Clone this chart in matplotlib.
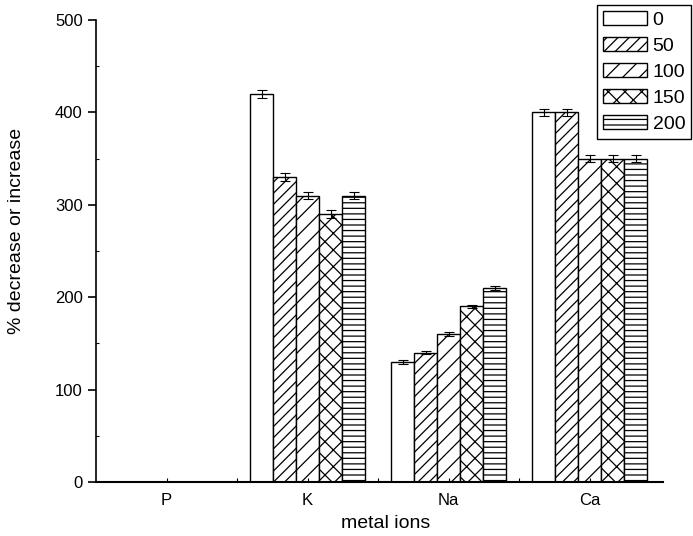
import numpy as np
import matplotlib.pyplot as plt
from matplotlib.ticker import MultipleLocator

plt.rcParams['font.family'] = ['Liberation Sans', 'DejaVu Sans']
plt.rcParams['hatch.linewidth'] = 0.9

ions = ['P', 'K', 'Na', 'Ca']
doses = ['0', '50', '100', '150', '200']
hatches = ['', '///', '//', 'xx', '---']

# values per dose (rows) for P, K, Na, Ca
vals = {
    '0':   [0, 420, 130, 400],
    '50':  [0, 330, 140, 400],
    '100': [0, 310, 160, 350],
    '150': [0, 290, 190, 350],
    '200': [0, 310, 210, 350],
}
errs = {
    '0':   [0, 4, 2, 4],
    '50':  [0, 4, 2, 4],
    '100': [0, 4, 2, 4],
    '150': [0, 4, 2, 4],
    '200': [0, 4, 2, 4],
}

fig = plt.figure(figsize=(6.93, 5.36), dpi=100)
ax = fig.add_axes([96/693, 1-482/536, (663-96)/693, (482-20)/536])

x = np.arange(len(ions))
w = 0.163
for i, d in enumerate(doses):
    pos = x + (i - 2) * w
    ax.bar(pos, vals[d], w, color='white', edgecolor='black', linewidth=1.0,
           hatch=hatches[i], label=d,
           yerr=errs[d], capsize=3.5,
           error_kw=dict(ecolor='black', elinewidth=0.8, capthick=0.8))

ax.set_xlim(-0.5, 3.52)
ax.set_ylim(0, 500)
ax.set_xticks(x)
ax.set_xticklabels(ions, fontsize=12)
ax.xaxis.set_minor_locator(plt.FixedLocator(x[:-1] + 0.5))
ax.yaxis.set_major_locator(MultipleLocator(100))
ax.yaxis.set_minor_locator(MultipleLocator(50))
ax.tick_params(axis='y', which='major', direction='out', length=6, width=1.2, labelsize=12)
ax.tick_params(axis='y', which='minor', direction='in', length=2, width=0.8)
ax.tick_params(axis='x', which='both', direction='in', length=3, width=0.8, pad=8)

for s in ['top', 'right']:
    ax.spines[s].set_visible(False)
ax.spines['left'].set_linewidth(1.2)
ax.spines['bottom'].set_linewidth(1.5)

ax.set_xlabel('metal ions', fontsize=14)
ax.set_ylabel('% decrease or increase', fontsize=14)
ax.xaxis.set_label_coords(0.511, -0.071)
ax.yaxis.set_label_coords(-0.125, 0.543)

leg = fig.legend(loc='upper right', bbox_to_anchor=(691/693, 1-5/536),
                 bbox_transform=fig.transFigure, fontsize=14, frameon=True,
                 fancybox=False, edgecolor='black', framealpha=1,
                 handlelength=2.25, handleheight=0.75, labelspacing=0.42,
                 handletextpad=0.3, borderpad=0.3, borderaxespad=0)
leg.get_frame().set_linewidth(1.0)

fig.savefig('out.png', dpi=100)
